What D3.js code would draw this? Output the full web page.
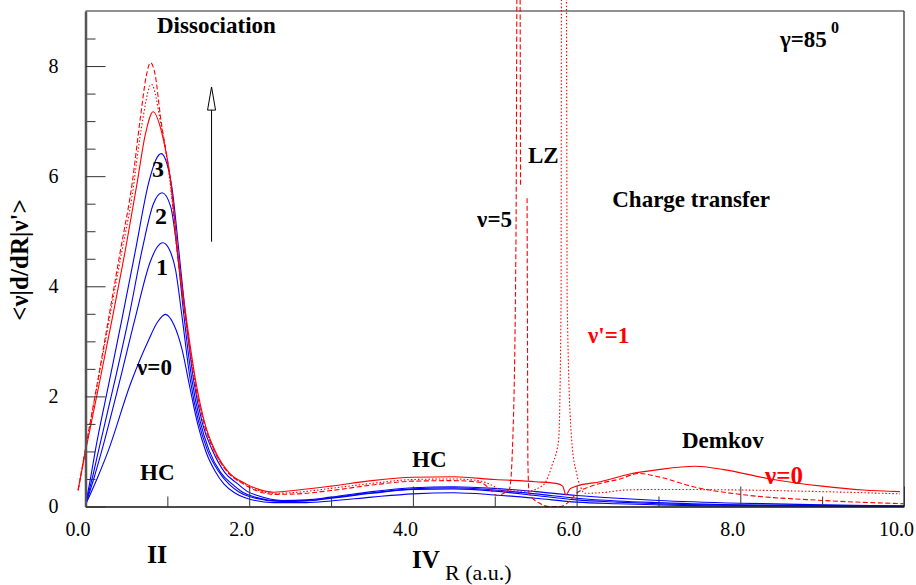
<!DOCTYPE html>
<html>
<head>
<meta charset="utf-8">
<script src="https://cdn.jsdelivr.net/npm/d3@7"></script>
<style>
  body { margin: 0; background: #fff; }
</style>
</head>
<body>
<svg id="main_svg" width="916" height="585"></svg>
<script>
// tick values and labels
var xTickValues = [0, 2, 4, 6, 8, 10];
var xTickLabels = ["0.0", "2.0", "4.0", "6.0", "8.0", "10.0"];
var xMinorValues = [1, 3, 5, 7, 9];
var yTickValues = [0, 2, 4, 6, 8];
var yTickLabels = ["0", "2", "4", "6", "8"];
var yMinorValues = [0.5, 1, 1.5, 2.5, 3, 3.5, 4.5, 5, 5.5, 6.5, 7, 7.5, 8.5];

// blue curves, v = 0..3  [R, <v|d/dR|v'>]
var blueNu0 = [[0,0.03],[0.14,0.5],[0.28,1.02],[0.55,2.23],[0.77,3.02],[0.88,3.35],[0.977,3.49],[1.08,3.3],[1.18,2.85],[1.27,2.2],[1.37,1.5],[1.47,1.0],[1.58,0.65],[1.69,0.41],[1.82,0.25],[1.95,0.16],[2.3,0.07],[2.7,0.07],[3.0,0.1],[3.5,0.17],[4.0,0.23],[4.5,0.25],[5.0,0.21],[5.5,0.15],[6.0,0.08],[6.5,0.05],[7.0,0.03],[8.0,0.01],[9.0,0.01],[10,0.0]];
var blueNu1 = [[0,0.03],[0.1,0.5],[0.2,1.02],[0.41,2.23],[0.61,3.44],[0.79,4.44],[0.87,4.7],[0.944,4.79],[1.02,4.68],[1.1,4.3],[1.18,3.44],[1.28,2.3],[1.38,1.55],[1.49,1.02],[1.62,0.65],[1.75,0.41],[1.88,0.26],[2.0,0.18],[2.4,0.09],[2.7,0.1],[3.0,0.15],[3.5,0.24],[4.0,0.31],[4.5,0.32],[5.0,0.28],[5.5,0.2],[6.0,0.12],[6.5,0.08],[7.0,0.05],[8.0,0.02],[9.0,0.01],[10,0.01]];
var blueNu2 = [[0,0.03],[0.08,0.5],[0.16,1.02],[0.35,2.23],[0.53,3.44],[0.69,4.65],[0.83,5.5],[0.936,5.7],[1.04,5.45],[1.12,4.65],[1.2,3.5],[1.3,2.3],[1.4,1.55],[1.51,1.02],[1.65,0.62],[1.79,0.41],[1.92,0.26],[2.05,0.18],[2.4,0.1],[2.7,0.11],[3.0,0.16],[3.5,0.25],[4.0,0.32],[4.5,0.34],[5.0,0.3],[5.5,0.23],[6.0,0.15],[6.5,0.1],[7.0,0.07],[8.0,0.03],[9.0,0.02],[10,0.01]];
var blueNu3 = [[0,0.03],[0.06,0.5],[0.12,1.02],[0.285,2.23],[0.45,3.44],[0.61,4.65],[0.77,5.87],[0.86,6.3],[0.924,6.41],[0.99,6.25],[1.06,5.75],[1.14,4.65],[1.22,3.5],[1.32,2.3],[1.43,1.5],[1.55,1.02],[1.7,0.62],[1.86,0.41],[1.98,0.27],[2.1,0.2],[2.4,0.11],[2.7,0.12],[3.0,0.17],[3.5,0.27],[4.0,0.34],[4.5,0.36],[5.0,0.33],[5.5,0.27],[6.0,0.2],[6.5,0.15],[7.0,0.11],[8.0,0.06],[9.0,0.03],[10,0.01]];

// red curves, v' = 1
var redSolid = [[-0.09,0.3],[0,1.0],[0.15,2.1],[0.33,3.44],[0.48,4.6],[0.63,5.87],[0.73,6.75],[0.826,7.17],[0.93,6.8],[1.05,5.8],[1.13,4.6],[1.23,3.44],[1.35,2.25],[1.46,1.5],[1.58,1.02],[1.75,0.62],[1.95,0.42],[2.1,0.32],[2.3,0.26],[2.6,0.3],[3.0,0.37],[3.5,0.47],[4.0,0.53],[4.5,0.54],[5.0,0.49],[5.5,0.45],[5.75,0.42],[5.83,0.37],[5.87,0.21],[5.92,0.32],[6.0,0.37],[6.29,0.45],[6.65,0.59],[7.0,0.67],[7.45,0.73],[7.8,0.67],[8.33,0.51],[9.0,0.37],[9.5,0.3],[9.95,0.27]];
var redDotted = [[-0.09,0.3],[0,1.05],[0.143,2.2],[0.285,3.35],[0.427,4.5],[0.57,5.65],[0.68,6.85],[0.806,7.67],[0.92,6.95],[1.04,5.8],[1.12,4.62],[1.22,3.44],[1.34,2.25],[1.45,1.5],[1.57,1.02],[1.74,0.62],[1.93,0.42],[2.1,0.3],[2.3,0.24],[2.6,0.26],[3.0,0.33],[3.5,0.42],[4.0,0.49],[4.5,0.5],[4.8,0.47],[5.0,0.36],[5.1,0.28],[5.4,0.28],[5.6,0.4],[5.7,0.75],[5.78,1.2],[5.81,3.7],[5.815,9.2],[5.845,14],[5.876,9.2],[5.885,3.7],[5.94,1.2],[6.0,0.6],[6.05,0.35],[6.1,0.24],[6.3,0.25],[6.6,0.3],[7.0,0.31],[8.0,0.3],[9.0,0.27],[9.95,0.23]];
var redDashed = [[-0.09,0.29],[0,1.05],[0.143,2.23],[0.285,3.44],[0.427,4.65],[0.57,5.87],[0.672,7.08],[0.74,7.8],[0.794,8.06],[0.85,7.85],[0.916,7.08],[1.04,5.87],[1.12,4.65],[1.22,3.44],[1.34,2.23],[1.45,1.5],[1.57,1.02],[1.74,0.62],[1.93,0.41],[2.1,0.28],[2.3,0.22],[2.6,0.23],[3.0,0.29],[3.5,0.39],[4.0,0.46],[4.5,0.47],[4.82,0.44],[4.95,0.3],[5.02,0.2],[5.12,0.25],[5.18,0.32],[5.22,1.2],[5.26,5],[5.27,9.2],[5.29,14],[5.31,9.2],[5.315,5.8],[5.35,null],[5.395,5.6],[5.4,3],[5.405,0.8],[5.42,0.24],[5.56,0.05],[5.65,0.0],[5.8,0.0],[5.9,0.08],[6.0,0.24],[6.2,0.38],[6.53,0.5],[6.76,0.6],[7.0,0.54],[7.45,0.35],[8.0,0.22],[9.0,0.11],[10.0,0.05]];

var svg = d3.select("#main_svg");

var x = d3.scaleLinear().domain([0, 10]).range([85.5, 904]);
var y = d3.scaleLinear().domain([0, 9]).range([506.5, 11]);

var fontFam = '"Liberation Serif", "Times New Roman", Times, serif';

// frame top / right
svg.append("line")
  .attr("x1", x(0)).attr("x2", x(10)).attr("y1", y(9)).attr("y2", y(9))
  .attr("stroke", "#222").attr("stroke-width", 1.2);
svg.append("line")
  .attr("x1", x(10)).attr("x2", x(10)).attr("y1", y(9)).attr("y2", y(0))
  .attr("stroke", "#222").attr("stroke-width", 1.2);

// curves
var series = [
  {data: blueNu0, color: "#0000ff", dash: null},
  {data: blueNu1, color: "#0000ff", dash: null},
  {data: blueNu2, color: "#0000ff", dash: null},
  {data: blueNu3, color: "#0000ff", dash: null},
  {data: redDotted, color: "#ff0000", dash: "1.5,2"},
  {data: redDashed, color: "#ff0000", dash: "5,2.5"},
  {data: redSolid, color: "#ff0000", dash: null}
];

var line = d3.line()
  .defined(function(d) { return d[1] !== null; })
  .x(function(d) { return x(d[0]); })
  .y(function(d) { return y(d[1]); })
  .curve(d3.curveMonotoneX);

svg.append("g")
  .selectAll("path")
  .data(series)
  .enter().append("path")
  .attr("d", function(d) { return line(d.data); })
  .attr("fill", "none")
  .attr("stroke", function(d) { return d.color; })
  .attr("stroke-width", 1.1)
  .attr("stroke-dasharray", function(d) { return d.dash; });

// x axis: minor then major ticks (pointing up)
var gxMinor = svg.append("g").attr("transform", "translate(0," + y(0) + ")")
  .call(d3.axisBottom(x).tickValues(xMinorValues).tickSize(-10).tickFormat(""));
gxMinor.select(".domain").remove();

var gx = svg.append("g").attr("transform", "translate(0," + y(0) + ")")
  .call(d3.axisBottom(x).tickValues(xTickValues).tickSizeInner(-20).tickSizeOuter(0)
    .tickPadding(15).tickFormat(function(d, i) { return xTickLabels[i]; }));
gx.select(".domain").attr("stroke", "#111").attr("stroke-width", 1.6);
gx.attr("font-family", fontFam).attr("font-size", 20);
gx.selectAll("text").attr("dx", -8);

// y axis
var gyMinor = svg.append("g").attr("transform", "translate(" + x(0) + ",0)")
  .call(d3.axisLeft(y).tickValues(yMinorValues).tickSize(-10).tickFormat(""));
gyMinor.select(".domain").remove();

var gy = svg.append("g").attr("transform", "translate(" + x(0) + ",0)")
  .call(d3.axisLeft(y).tickValues(yTickValues).tickSizeInner(-20).tickSizeOuter(0)
    .tickPadding(27).tickFormat(function(d, i) { return yTickLabels[i]; }));
gy.select(".domain").attr("stroke", "#555").attr("stroke-width", 2.5);
gy.attr("font-family", fontFam).attr("font-size", 20);
svg.selectAll(".tick line").attr("stroke", "#333");

// y title
svg.append("text")
  .attr("transform", "translate(28,260) rotate(-90)")
  .attr("text-anchor", "middle")
  .attr("font-family", fontFam)
  .attr("font-size", 25)
  .attr("font-weight", "bold")
  .text("<\u03bd|d/dR|\u03bd'>");

// arrow
svg.append("line")
  .attr("x1", x(1.54)).attr("x2", x(1.54))
  .attr("y1", y(4.81)).attr("y2", y(7.2))
  .attr("stroke", "#000").attr("stroke-width", 1);
svg.append("path")
  .attr("d", "M" + x(1.54) + "," + y(7.62) + " L" + (x(1.54) - 4) + "," + y(7.2) +
    " L" + (x(1.54) + 4) + "," + y(7.2) + " Z")
  .attr("fill", "#fff").attr("stroke", "#000").attr("stroke-width", 1);

// text labels
var labels = [
  {t: "Dissociation", x: 157, y: 33, size: 23},
  {t: "Charge transfer", x: 770, y: 207, size: 23, anchor: "end"},
  {t: "LZ", x: 528, y: 163, size: 23},
  {t: "\u03bd=5", x: 512, y: 227, size: 23, anchor: "end"},
  {t: "3", x: 158, y: 177, size: 24, anchor: "middle"},
  {t: "2", x: 161, y: 224, size: 24, anchor: "middle"},
  {t: "1", x: 162, y: 275, size: 24, anchor: "middle"},
  {t: "\u03bd=0", x: 137, y: 375, size: 23},
  {t: "HC", x: 140, y: 480, size: 23},
  {t: "HC", x: 412, y: 467, size: 23},
  {t: "II", x: 147, y: 563, size: 26},
  {t: "IV", x: 412, y: 568, size: 25},
  {t: "R (a.u.)", x: 445, y: 580, size: 22, weight: "normal"},
  {t: "\u03bd'=1", x: 588, y: 343, size: 23, color: "#ff0000"},
  {t: "Demkov", x: 682, y: 448, size: 23},
  {t: "\u03bd=0", x: 765, y: 484, size: 25, color: "#ff0000"}
];

svg.append("g")
  .selectAll("text")
  .data(labels)
  .enter().append("text")
  .attr("x", function(d) { return d.x; })
  .attr("y", function(d) { return d.y; })
  .attr("font-family", fontFam)
  .attr("font-size", function(d) { return d.size; })
  .attr("font-weight", function(d) { return d.weight || "bold"; })
  .attr("text-anchor", function(d) { return d.anchor || "start"; })
  .attr("fill", function(d) { return d.color || "#000"; })
  .text(function(d) { return d.t; });

// gamma with superscript degree
var gam = svg.append("text")
  .attr("x", 780).attr("y", 47)
  .attr("font-family", fontFam)
  .attr("font-size", 23)
  .attr("font-weight", "bold")
  .text("\u03b3=85");
gam.append("tspan")
  .attr("dx", 4).attr("dy", -14)
  .attr("font-size", 16)
  .text("0");
</script>
</body>
</html>
